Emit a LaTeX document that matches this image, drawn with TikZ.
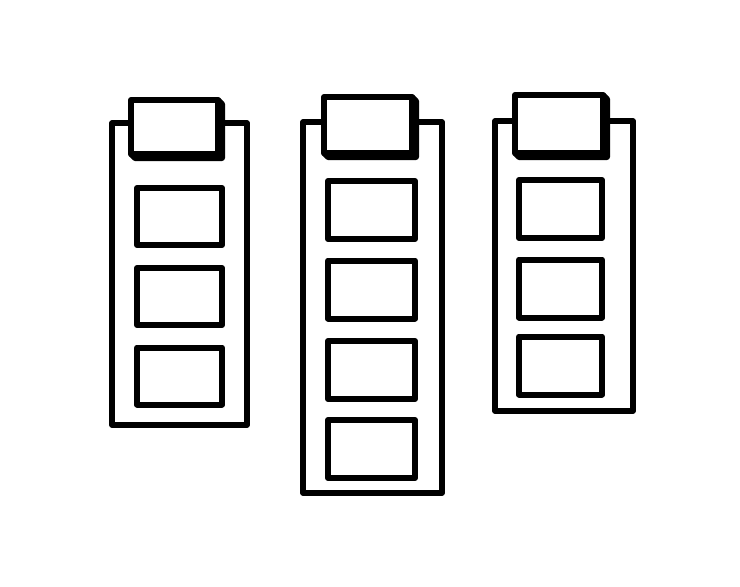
\documentclass[tikz,border=0pt]{standalone}
\begin{document}
\begin{tikzpicture}[x=1pt,y=-1pt,
  frame/.style={draw=black, line width=5.5pt, rectangle, inner sep=0pt, outer sep=0pt, fill=white, line join=round},
  headbox/.style={frame, line width=6pt},
  shadowpart/.style={draw=black, fill=black, line width=6pt, line join=round},
  cell/.style={frame, line width=6pt, minimum height=57pt}]
\useasboundingbox[fill=white] (0,0) rectangle (740,587);
% outer frames
\node[frame, minimum width=135pt, minimum height=302pt] (o1) at (179.5,274) {};
\node[frame, minimum width=139pt, minimum height=371pt] (o2) at (372.5,307.5) {};
\node[frame, minimum width=138pt, minimum height=290pt] (o3) at (564,266) {};
% headers
\node[headbox, minimum width=87pt, minimum height=54pt] (h1) at (174.5,127) {};
\node[headbox, minimum width=88pt, minimum height=56pt] (h2) at (368,125) {};
\node[headbox, minimum width=88pt, minimum height=58pt] (h3) at (559,124) {};
\foreach \h in {h1,h2,h3}{
  \draw[shadowpart] (\h.north east) -- ++(4,4) -- ([shift={(4,4)}]\h.south east)
    -- ([shift={(4,4)}]\h.south west) -- (\h.south west) -- (\h.south east) -- cycle;
}
% cells, left column
\node[cell, minimum width=85pt] (a1) at (179.5,216.5) {};
\node[cell, minimum width=85pt] (a2) at (179.5,296.5) {};
\node[cell, minimum width=85pt] (a3) at (179.5,376) {};
% cells, middle column
\node[cell, minimum width=87pt, minimum height=58pt] (b1) at (371.5,210) {};
\node[cell, minimum width=87pt, minimum height=58pt] (b2) at (371.5,289.5) {};
\node[cell, minimum width=87pt, minimum height=58pt] (b3) at (371.5,370) {};
\node[cell, minimum width=87pt, minimum height=58pt] (b4) at (371.5,449) {};
% cells, right column
\node[cell, minimum width=83pt, minimum height=58pt] (c1) at (560.5,209) {};
\node[cell, minimum width=83pt, minimum height=58pt] (c2) at (560.5,288.5) {};
\node[cell, minimum width=83pt, minimum height=58pt] (c3) at (560.5,365.5) {};
\end{tikzpicture}
\end{document}
